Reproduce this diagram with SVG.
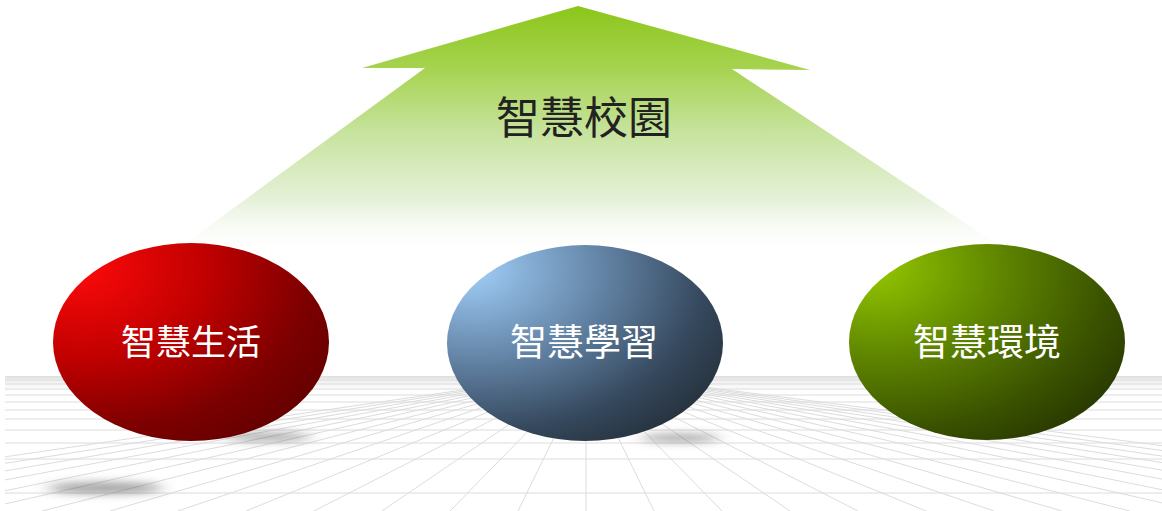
<svg xmlns="http://www.w3.org/2000/svg" width="1162" height="511" viewBox="0 0 1162 511">
  <style>
    .lbl { font-family: "Noto Sans CJK TC", "Noto Sans CJK SC", "Noto Sans", sans-serif; fill: #ffffff; font-size: 35px; text-anchor: middle; }
    .lbl2 { font-size: 37px; }
    .title { font-family: "Noto Sans CJK TC", "Noto Sans CJK SC", "Noto Sans", sans-serif; fill: #222222; font-size: 44px; text-anchor: middle; }
    .grid { stroke: #dcdcdc; stroke-width: 1; fill: none; }
    .shadow { fill: #4a4a4a; filter: url(#blur); }
  </style>
  <defs>
    <linearGradient id="arrowGrad" gradientUnits="userSpaceOnUse" x1="0" y1="6" x2="0" y2="256">
      <stop offset="0" stop-color="#8cc61a"/>
      <stop offset="0.25" stop-color="#a6d350"/>
      <stop offset="0.5" stop-color="#c6e39c"/>
      <stop offset="0.78" stop-color="#e6f1da"/>
      <stop offset="1" stop-color="#ffffff" stop-opacity="0"/>
    </linearGradient>
    <radialGradient id="redGrad" cx="0.15" cy="0.15" r="1" fx="0.08" fy="0.12">
      <stop offset="0" stop-color="#ff0a0a"/>
      <stop offset="0.45" stop-color="#c00000"/>
      <stop offset="0.8" stop-color="#7c0000"/>
      <stop offset="1" stop-color="#660000"/>
    </radialGradient>
    <radialGradient id="blueGrad" cx="0.15" cy="0.15" r="1" fx="0.08" fy="0.12">
      <stop offset="0" stop-color="#a2d0fa"/>
      <stop offset="0.45" stop-color="#6384a6"/>
      <stop offset="0.8" stop-color="#35485d"/>
      <stop offset="1" stop-color="#27333f"/>
    </radialGradient>
    <radialGradient id="greenGrad" cx="0.15" cy="0.15" r="1" fx="0.08" fy="0.12">
      <stop offset="0" stop-color="#94c800"/>
      <stop offset="0.45" stop-color="#5e8400"/>
      <stop offset="0.8" stop-color="#3a5200"/>
      <stop offset="1" stop-color="#2a3a00"/>
    </radialGradient>
    <linearGradient id="horizon" gradientUnits="userSpaceOnUse" x1="0" y1="376" x2="0" y2="396">
      <stop offset="0" stop-color="#e4e4e4"/>
      <stop offset="1" stop-color="#ffffff" stop-opacity="0"/>
    </linearGradient>
    <clipPath id="floorClip">
      <rect x="5" y="376" width="1157" height="135"/>
    </clipPath>
    <filter id="blur" x="-50%" y="-200%" width="200%" height="500%">
      <feGaussianBlur stdDeviation="8 4"/>
    </filter>
  </defs>

  <rect x="0" y="0" width="1162" height="511" fill="#ffffff"/>

  <g id="floor" clip-path="url(#floorClip)">
    <rect x="5" y="376" width="1157" height="22" fill="url(#horizon)"/>
    <path class="grid" d="M5 377H1162 M5 380H1162 M5 384H1162 M5 389H1162 M5 395H1162 M5 402H1162 M5 410H1162 M5 419H1162 M5 430H1162 M5 443H1162 M5 459H1162 M5 493H1162"/>
    <path class="grid" d="M586 372L-366 511 M586 372L-298 511 M586 372L-230 511 M586 372L-162 511 M586 372L-94 511 M586 372L-26 511 M586 372L42 511 M586 372L110 511 M586 372L178 511 M586 372L246 511 M586 372L314 511 M586 372L382 511 M586 372L450 511 M586 372L518 511 M586 372L586 511 M586 372L654 511 M586 372L722 511 M586 372L790 511 M586 372L858 511 M586 372L926 511 M586 372L994 511 M586 372L1062 511 M586 372L1130 511 M586 372L1198 511 M586 372L1266 511 M586 372L1334 511 M586 372L1402 511 M586 372L1470 511 M586 372L1538 511 M586 372L1606 511 M586 372L1674 511"/>
  </g>

  <g id="shadows">
    <ellipse class="shadow" cx="268" cy="437" rx="44" ry="4" opacity="0.5"/>
    <ellipse class="shadow" cx="105" cy="488" rx="58" ry="6" opacity="0.5"/>
    <ellipse class="shadow" cx="680" cy="438" rx="40" ry="4" opacity="0.5"/>
  </g>

  <g id="arrow">
    <polygon points="578,6 810,70 732,69 1015,256 168,256 425,68 362,68" fill="url(#arrowGrad)"/>
    <text class="title" x="584" y="134">智慧校園</text>
  </g>

  <g id="node-life">
    <ellipse cx="191" cy="342" rx="138" ry="99" fill="url(#redGrad)"/>
    <text class="lbl" x="191" y="355">智慧生活</text>
  </g>

  <g id="node-learn">
    <ellipse cx="585" cy="343" rx="138" ry="98" fill="url(#blueGrad)"/>
    <text class="lbl lbl2" x="584" y="356">智慧學習</text>
  </g>

  <g id="node-env">
    <ellipse cx="987" cy="342" rx="138" ry="98" fill="url(#greenGrad)"/>
    <text class="lbl lbl2" x="987" y="356">智慧環境</text>
  </g>

  <g id="connectors"/>
</svg>
